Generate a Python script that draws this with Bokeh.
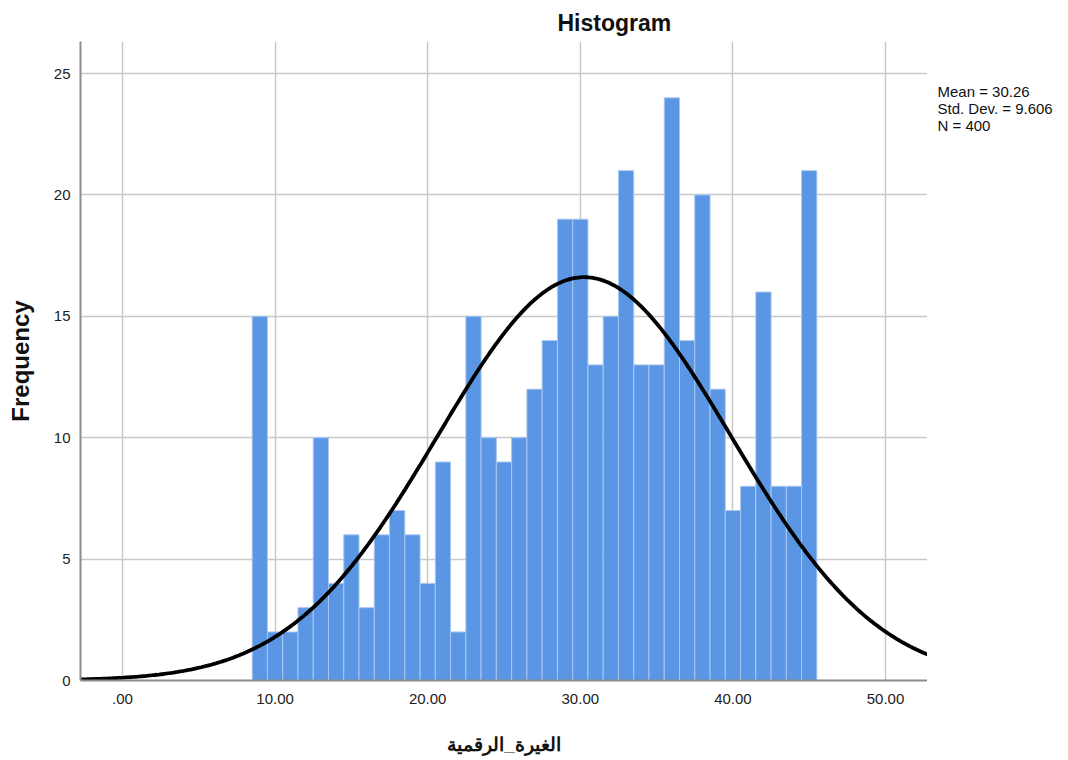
import math
from bokeh.plotting import figure
from bokeh.layouts import row
from bokeh.models import Range1d, Label, FixedTicker, ColumnDataSource, Title
from bokeh.embed import file_html
from bokeh.resources import INLINE

# ---- data ----
frequencies = [15, 2, 2, 3, 10, 4, 6, 3, 6, 7, 6, 4, 9, 2, 15, 10, 9, 10, 12,
               14, 19, 19, 13, 15, 21, 13, 13, 24, 14, 20, 12, 7, 8, 16, 8, 8, 21]
bin_start = 8.5
bin_width = 1.0
x_ticks = [0, 10, 20, 30, 40, 50]
x_tick_labels = [".00", "10.00", "20.00", "30.00", "40.00", "50.00"]
y_ticks = [0, 5, 10, 15, 20, 25]
mean = 30.26
std_dev = 9.606
n_total = 400
stats_lines = ["Mean = 30.26", "Std. Dev. = 9.606", "N = 400"]
title_text = "Histogram"
x_label = "الغيرة_الرقمية"
y_label = "Frequency"

FONT = "Liberation Sans"
TOTAL_H = 760
FRAME_BOTTOM = 680

lefts = [bin_start + i * bin_width for i in range(len(frequencies))]
rights = [l + bin_width for l in lefts]
bars = ColumnDataSource(dict(left=lefts, right=rights, top=frequencies,
                             bottom=[0] * len(frequencies)))

x_min, x_max = -2.75, 52.75
curve_x = [x_min + (x_max - x_min) * i / 400 for i in range(401)]
curve_y = [n_total * bin_width / (std_dev * math.sqrt(2 * math.pi)) *
           math.exp(-0.5 * ((v - mean) / std_dev) ** 2) for v in curve_x]

p = figure(width=927, height=TOTAL_H, output_backend="svg", toolbar_location=None,
           x_range=Range1d(x_min, x_max), y_range=Range1d(0, 26.32),
           min_border_left=80, min_border_right=0, min_border_top=41,
           min_border_bottom=TOTAL_H - FRAME_BOTTOM)
p.outline_line_color = None
p.background_fill_color = "white"
p.border_fill_color = "white"

p.quad(left="left", right="right", top="top", bottom="bottom", source=bars,
       fill_color="#5a96e3", line_color="#a8c8f2", line_width=1)
p.line(curve_x, curve_y, line_color="black", line_width=3.8)

for ax in (p.xaxis[0], p.yaxis[0]):
    ax.major_tick_line_color = None
    ax.minor_tick_line_color = None
    ax.axis_line_color = "#8c8c8c"
    ax.axis_line_width = 2
    ax.major_label_text_font = FONT
    ax.major_label_text_font_size = "15px"
    ax.major_label_text_color = "#222222"
    ax.axis_label_text_font = FONT
    ax.axis_label_text_font_style = "bold"
    ax.axis_label_text_color = "#111111"

p.xaxis.ticker = FixedTicker(ticks=x_ticks)
p.xaxis.major_label_overrides = {t: s for t, s in zip(x_ticks, x_tick_labels)}
p.xaxis.major_label_standoff = 7
p.xaxis.axis_label = x_label
p.xaxis.axis_label_text_font_size = "19px"
p.xaxis.axis_label_standoff = 27

p.yaxis.ticker = FixedTicker(ticks=y_ticks)
p.yaxis.major_label_standoff = 4
p.yaxis.axis_label = y_label
p.yaxis.axis_label_text_font_size = "24px"
p.yaxis.axis_label_standoff = 17

p.xgrid.ticker = FixedTicker(ticks=x_ticks)
p.ygrid.ticker = FixedTicker(ticks=y_ticks)
p.grid.grid_line_color = "#c8c8c8"
p.grid.grid_line_width = 1.5

p.add_layout(Title(text=title_text, align="left", offset=477, text_font=FONT,
                   text_font_style="bold", text_font_size="23px",
                   text_color="#111111", standoff=12), "above")

# side panel holding the statistics text (its frame is aligned with the main frame)
s = figure(width=1068 - 927, height=TOTAL_H, output_backend="svg",
           toolbar_location=None, x_axis_location=None, y_axis_location=None,
           x_range=Range1d(0, 1), y_range=Range1d(0, 1), min_border=0)
s.outline_line_color = None
s.grid.visible = False
for i, line in enumerate(stats_lines):
    s.add_layout(Label(x=10, y=FRAME_BOTTOM - 91 - 17 * i, x_units="screen",
                       y_units="screen", text=line, text_font=FONT,
                       text_font_size="15px", text_baseline="alphabetic",
                       text_color="#111111"))

layout = row(p, s, spacing=0)
open("out.html", "w").write(file_html(layout, INLINE))
